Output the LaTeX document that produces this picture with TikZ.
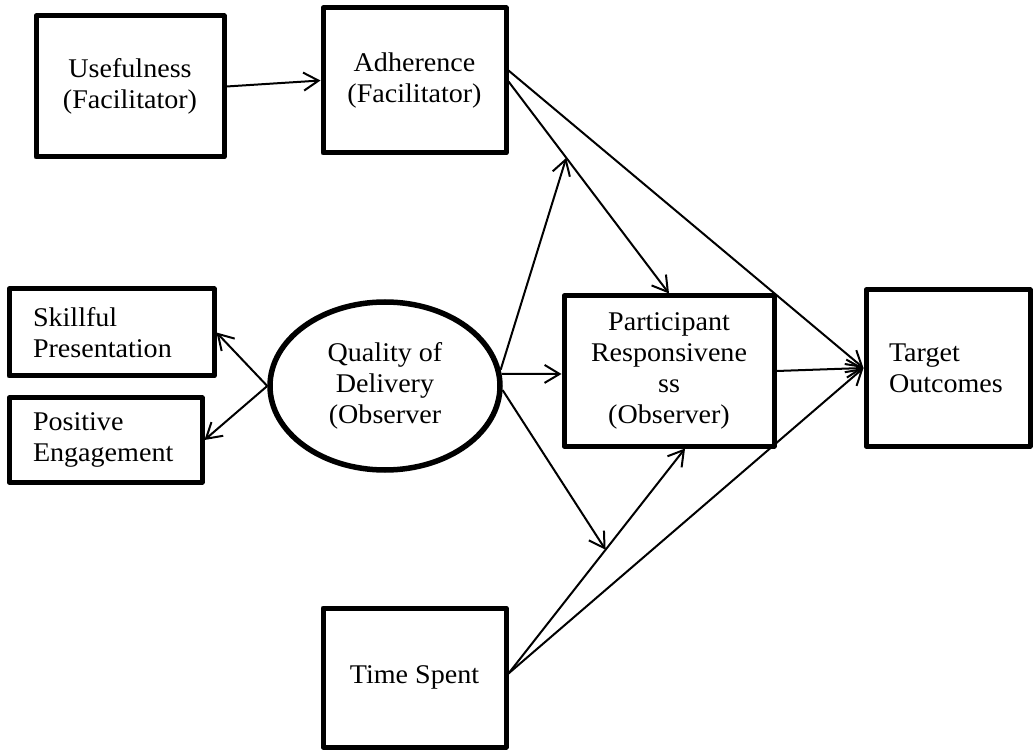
\documentclass[tikz,border=0pt]{standalone}
\usepackage{fontspec}
\setmainfont{Liberation Serif}[FakeStretch=1.04]
\usetikzlibrary{arrows.meta,shapes.geometric,calc}

\begin{document}
\begin{tikzpicture}[x=1pt,y=-1pt,
    every node/.style={font=\fontsize{27pt}{31pt}\selectfont},
    box/.style={draw, line width=5pt, line join=round, rectangle,
                inner sep=0pt, align=center},
    leftbox/.style={box, align=left, anchor=center},
    oval/.style={draw, line width=5.5pt, ellipse, inner sep=0pt, align=center,
                 minimum width=230pt, minimum height=168pt},
    link/.style={line width=2pt,
                 -{Straight Barb[length=15pt,width=18pt,line width=2pt]}}]

  \useasboundingbox (0,0) rectangle (1034,751);

  % left column
  \node[box, minimum width=188pt, minimum height=141pt] (use) at (130,86.5)
    {Usefulness\\(Facilitator)};
  \node[box, minimum width=183pt, minimum height=145pt] (adh) at (414.5,80.5)
    {Adherence\\(Facilitator)};

  \node[leftbox, minimum width=205pt, minimum height=87pt, text width=157pt,
        inner xsep=24pt] (skill) at (111.5,332.5)
    {Skillful\\Presentation};
  \node[leftbox, minimum width=193pt, minimum height=84pt, text width=145pt,
        inner xsep=24pt] (pos) at (105.5,440)
    {Positive\\Engagement};

  \node[oval] (qual) at (385,386) {Quality of\\Delivery\\(Observer};

  \node[box, minimum width=210pt, minimum height=150pt] (part) at (669,371)
    {Participant\\Responsivene\\ss\\(Observer)};

  \node[leftbox, minimum width=164pt, minimum height=156pt, text width=118pt,
        inner xsep=23pt] (target) at (948,368)
    {Target\\Outcomes};

  \node[box, minimum width=183pt, minimum height=139pt] (time) at (414.5,677.5)
    {Time Spent};

  % attachment points
  \coordinate (adhA) at ($(adh.east)+(0,-10)$);
  \coordinate (adhB) at ($(adh.east)+(0,1)$);
  \coordinate (timeA) at ($(time.east)+(0,-4)$);
  \coordinate (partS) at ($(part.south)+(16,0)$);
  \coordinate (partW) at ($(part.west)+(0,3)$);
  \coordinate (modA) at ($(adhB)!0.36!(part.north)$);
  \coordinate (modT) at ($(timeA)!0.55!(partS)$);

  % connectors
  \draw[link] (use.east) -- (adh.west);
  \draw[link] (adhA) -- (target.west);
  \draw[link] (adhB) -- (part.north);
  \draw[link] (qual.8) -- (modA);
  \draw[link] (qual.6) -- (partW);
  \draw[link] (qual.-2) -- (modT);
  \draw[link] (qual.west) -- (skill.east);
  \draw[link] (qual.west) -- (pos.east);
  \draw[link] (part.east) -- (target.west);
  \draw[link] (timeA) -- (partS);
  \draw[link] (timeA) -- (target.west);
\end{tikzpicture}
\end{document}
